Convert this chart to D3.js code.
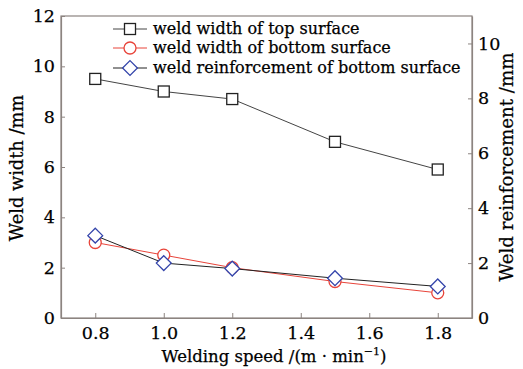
<!DOCTYPE html>
<html>
<head>
<meta charset="utf-8">
<script src="https://cdn.jsdelivr.net/npm/d3@7"></script>
<style>
  body { margin: 0; background: #fff; }
  svg { display: block; }
  text { font-family: "DejaVu Serif", "Liberation Serif", serif; fill: #000; stroke: #000; stroke-width: 0.25; }
</style>
</head>
<body>
<svg id="chart" width="523" height="369"></svg>
<script>
// welding speed in m/min
const speeds = [0.8, 1.0, 1.2, 1.5, 1.8];
const topWidth = [9.5, 9.0, 8.7, 7.0, 5.9];        // left axis
const bottomWidth = [3.0, 2.5, 2.0, 1.45, 1.0];    // left axis
const reinforcement = [3.0, 2.0, 1.8, 1.45, 1.15]; // right axis
const xTicks = [0.8, 1.0, 1.2, 1.4, 1.6, 1.8];
const yLeftTicks = [0, 2, 4, 6, 8, 10, 12];
const yRightTicks = [0, 2, 4, 6, 8, 10];
const legendLabels = ["weld width of top surface", "weld width of bottom surface", "weld reinforcement of bottom surface"];

const svg = d3.select("#chart");
const m = {left: 61, right: 472, top: 16, bottom: 318};
const frameColor = "#8c8480";

const x = d3.scaleLinear().domain([0.7, 1.9]).range([m.left, m.right]);
const yL = d3.scaleLinear().domain([0, 12]).range([m.bottom, m.top]);
const yR = d3.scaleLinear().domain([0, 11]).range([m.bottom, m.top]);

// frame
svg.append("rect").attr("x", m.left).attr("y", m.top)
  .attr("width", m.right - m.left).attr("height", m.bottom - m.top)
  .attr("fill", "none").attr("stroke", frameColor).attr("stroke-width", 1.2);

// axes (ticks point inward)
const xAxisG = svg.append("g").attr("transform", "translate(0," + m.bottom + ")")
  .call(d3.axisBottom(x).tickValues(xTicks).tickFormat(d3.format(".1f")).tickSizeInner(-5).tickSizeOuter(0).tickPadding(9));
const yLG = svg.append("g").attr("transform", "translate(" + m.left + ",0)")
  .call(d3.axisLeft(yL).tickValues(yLeftTicks).tickFormat(d3.format("d")).tickSizeInner(-4).tickSizeOuter(0).tickPadding(6));
const yRG = svg.append("g").attr("transform", "translate(" + m.right + ",0)")
  .call(d3.axisRight(yR).tickValues(yRightTicks).tickFormat(d3.format("d")).tickSizeInner(-4).tickSizeOuter(0).tickPadding(6));

[xAxisG, yLG, yRG].forEach(g => {
  g.select(".domain").attr("stroke", frameColor).attr("stroke-width", 1.2);
  g.selectAll(".tick line").attr("stroke", frameColor);
  g.selectAll(".tick text").attr("font-size", 17.5).attr("font-family", "DejaVu Serif").attr("fill", "#000");
});

// axis titles
svg.append("text").attr("x", 274).attr("y", 362)
  .attr("text-anchor", "middle").attr("font-size", 16.5)
  .html('Welding speed /(m · min<tspan font-size="11" dy="-7">−1</tspan><tspan dy="7">)</tspan>');
svg.append("text").attr("transform", "translate(23,168) rotate(-90)")
  .attr("text-anchor", "middle").attr("font-size", 17.8).text("Weld width /mm");
svg.append("text").attr("transform", "translate(513,167) rotate(-90)")
  .attr("text-anchor", "middle").attr("font-size", 18.2).text("Weld reinforcement /mm");

const series = [
  {vals: topWidth, y: yL, line: "#444", marker: "#222", shape: "square"},
  {vals: bottomWidth, y: yL, line: "#e8443a", marker: "#e8443a", shape: "circle"},
  {vals: reinforcement, y: yR, line: "#222", marker: "#3344aa", shape: "diamond"}
];

function drawMarker(g, shape, cx, cy, color) {
  if (shape === "square") {
    g.append("rect").attr("x", cx - 5.5).attr("y", cy - 5.5).attr("width", 11).attr("height", 11)
      .attr("fill", "#fff").attr("stroke", color).attr("stroke-width", 1.3);
  } else if (shape === "circle") {
    g.append("circle").attr("cx", cx).attr("cy", cy).attr("r", 6)
      .attr("fill", "#fff").attr("stroke", color).attr("stroke-width", 1.3);
  } else {
    g.append("path").attr("d", d3.symbol(d3.symbolDiamond2, 140)())
      .attr("transform", "translate(" + cx + "," + cy + ")")
      .attr("fill", "#fff").attr("stroke", color).attr("stroke-width", 1.3);
  }
}

series.forEach(s => {
  const line = d3.line().x((d, i) => x(speeds[i])).y(d => s.y(d));
  svg.append("path").attr("d", line(s.vals)).attr("fill", "none")
    .attr("stroke", s.line).attr("stroke-width", 1);
});
series.forEach(s => {
  const g = svg.append("g");
  s.vals.forEach((v, i) => drawMarker(g, s.shape, x(speeds[i]), s.y(v), s.marker));
});

// legend
const legendY = [29, 48, 68];
series.forEach((s, i) => {
  const g = svg.append("g");
  g.append("line").attr("x1", 113).attr("x2", 147).attr("y1", legendY[i]).attr("y2", legendY[i])
    .attr("stroke", s.line).attr("stroke-width", 1);
  drawMarker(g, s.shape, 130, legendY[i], s.marker);
  g.append("text").attr("x", 153).attr("y", legendY[i] + 5).attr("font-size", 16).text(legendLabels[i]);
});
</script>
</body>
</html>
